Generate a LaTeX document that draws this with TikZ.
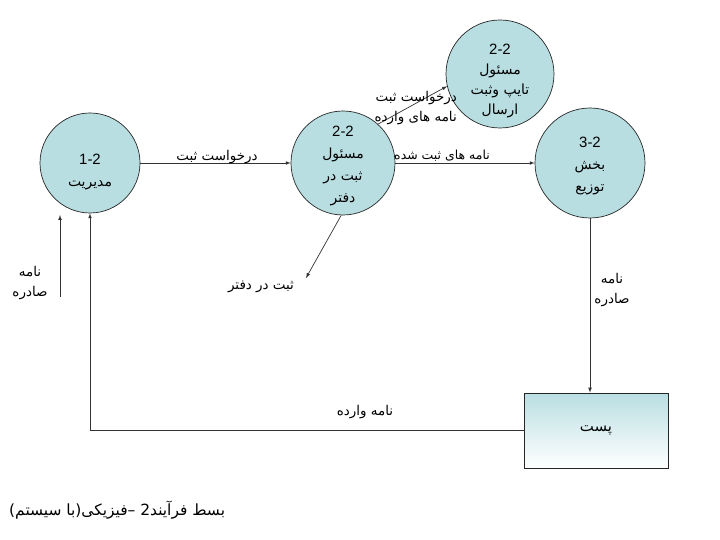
\documentclass[tikz,border=0pt]{standalone}
\usepackage{fontspec}
\setmainfont{Liberation Sans}
\newfontfamily\arabicfont[Script=Arabic]{DejaVu Sans}
\usetikzlibrary{arrows}
\usetikzlibrary{positioning}
\TeXXeTstate=1
\tikzset{>=latex}
\definecolor{proccolor}{RGB}{185,222,226}
\newcommand{\fatext}[1]{{\arabicfont\beginR #1\endR}}
\newcommand{\procnum}[1]{{\fontsize{15}{18}\selectfont #1}}

\tikzset{
  process/.style={circle, draw=black!85, line width=0.7bp, fill=proccolor,
    minimum size=#1, inner sep=0pt},
  procname/.style={inner sep=0pt, align=center, yshift=#1,
    font=\fontsize{14}{22}\selectfont},
  store/.style={rectangle, draw=black!85, line width=0.8bp,
    top color=proccolor, bottom color=white, minimum width=144bp,
    minimum height=75bp, font=\fontsize{15}{17}\selectfont},
  flow/.style={->, line width=0.7bp, draw=black!80},
  lbl/.style={inner sep=1pt, align=center, font=\fontsize{13.5}{20}\selectfont},
}

\begin{document}
\begin{tikzpicture}[x=1bp, y=-1bp]
    \useasboundingbox (0,0) rectangle (720,540);

    % Draw the processes.
    \node[process=100bp, label={[procname=-9bp]center:{\procnum{1-2}\\ \fatext{مدیریت}}}] (mgr) at (90,163) {};
    \node[process=104bp, label={[procname=-3bp]center:{\procnum{2-2}\\ \fatext{مسئول}\\ \fatext{ثبت در}\\ \fatext{دفتر}}}] (reg) at (343,163) {};
    \node[process=108bp, label={[procname=-7bp]center:{\procnum{2-2}\\[-2pt] \fatext{مسئول}\\[-2pt] \fatext{تایپ وثبت}\\[-2pt] \fatext{ارسال}}}] (typ) at (500,74) {};
    \node[process=110bp, label={[procname=-3bp]center:{\procnum{3-2}\\ \fatext{بخش}\\ \fatext{توزیع}}}] (dist) at (590,163) {};

    % Draw the post box.
    \node[store] (post) at (596,430.5) {\fatext{پست}};

    % Draw the free ends.
    \coordinate (ledger) at (306,278);
    \coordinate (outfoot) at (60,297);
    \coordinate (outhead) at (60,215);

    % Draw the flows between processes.
    \draw[flow] (mgr.east) -- (reg.west);
    \node[lbl] (reqlbl) at (217,157) {\fatext{درخواست ثبت}};
    \draw[flow] (reg.east) -- (dist.west);
    \node[lbl, font=\fontsize{12.5}{20}\selectfont] (donelbl) at (442,156) {\fatext{نامه های ثبت شده}};
    \draw[flow] (reg.48) -- (typ.193);
    \node[lbl, align=right, anchor=east] (inlbl) at (458,108) {\fatext{درخواست ثبت}\\ \fatext{نامه های وارده}};
    \draw[flow] (reg.-92) -- (ledger);
    \node[lbl] (ledgerlbl) at (261,287) {\fatext{ثبت در دفتر}};

    % Draw the letters going out and coming in.
    \draw[flow] (dist.south) -- (dist.south |- post.north);
    \node[lbl] (outlbl) at (612,290) {\fatext{نامه}\\ \fatext{صادره}};
    \draw[flow] (post.west) -| (mgr.south);
    \node[lbl] (inboxlbl) at (365,412) {\fatext{نامه وارده}};
    \draw[flow] (outfoot) -- (outhead);
    \node[lbl] (sentlbl) at (30,283) {\fatext{نامه}\\ \fatext{صادره}};

    % Write the caption.
    \node[lbl, anchor=west, font=\fontsize{15.5}{18}\selectfont] (caption) at (8,510) {\fatext{بسط فرآیند2 –فیزیکی(با سیستم)}};
\end{tikzpicture}
\end{document}
